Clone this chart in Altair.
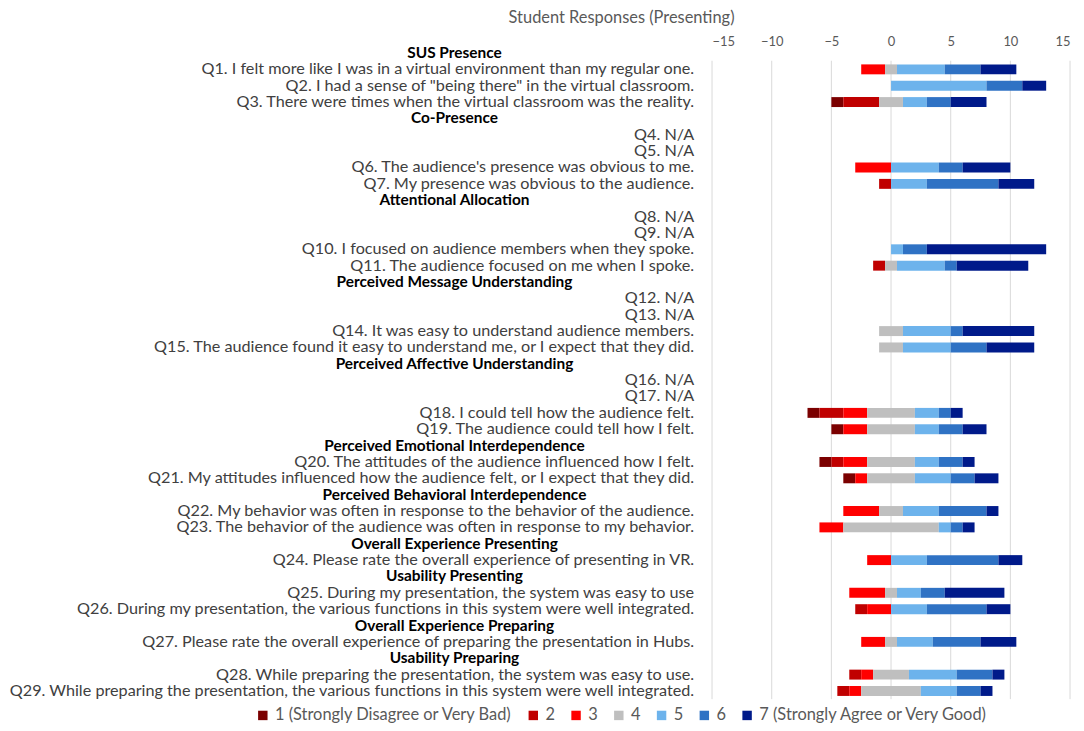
import altair as alt
import pandas as pd

FONT = "Lato"

# Row labels: (text, is_header)
rows = [
    ("SUS Presence", True),
    ("Q1. I felt more like I was in a virtual environment than my regular one.", False),
    ("Q2. I had a sense of \"being there\" in the virtual classroom.", False),
    ("Q3. There were times when the virtual classroom was the reality.", False),
    ("Co-Presence", True),
    ("Q4. N/A", False),
    ("Q5. N/A", False),
    ("Q6. The audience's presence was obvious to me.", False),
    ("Q7. My presence was obvious to the audience.", False),
    ("Attentional Allocation", True),
    ("Q8. N/A", False),
    ("Q9. N/A", False),
    ("Q10. I focused on audience members when they spoke.", False),
    ("Q11. The audience focused on me when I spoke.", False),
    ("Perceived Message Understanding", True),
    ("Q12. N/A", False),
    ("Q13. N/A", False),
    ("Q14. It was easy to understand audience members.", False),
    ("Q15. The audience found it easy to understand me, or I expect that they did.", False),
    ("Perceived Affective Understanding", True),
    ("Q16. N/A", False),
    ("Q17. N/A", False),
    ("Q18. I could tell how the audience felt.", False),
    ("Q19. The audience could tell how I felt.", False),
    ("Perceived Emotional Interdependence", True),
    ("Q20. The attitudes of the audience influenced how I felt.", False),
    ("Q21. My attitudes influenced how the audience felt, or I expect that they did.", False),
    ("Perceived Behavioral Interdependence", True),
    ("Q22. My behavior was often in response to the behavior of the audience.", False),
    ("Q23. The behavior of the audience was often in response to my behavior.", False),
    ("Overall Experience Presenting", True),
    ("Q24. Please rate the overall experience of presenting in VR.", False),
    ("Usability Presenting", True),
    ("Q25. During my presentation, the system was easy to use", False),
    ("Q26. During my presentation, the various functions in this system were well integrated.", False),
    ("Overall Experience Preparing", True),
    ("Q27. Please rate the overall experience of preparing the presentation in Hubs.", False),
    ("Usability Preparing", True),
    ("Q28. While preparing the presentation, the system was easy to use.", False),
    ("Q29. While preparing the presentation, the various functions in this system were well integrated.", False),
]

# counts of responses 1..7 per question
counts = {
    "Q1": [0, 0, 2, 1, 4, 3, 3],
    "Q2": [0, 0, 0, 0, 8, 3, 2],
    "Q3": [1, 3, 0, 2, 2, 2, 3],
    "Q6": [0, 0, 3, 0, 4, 2, 4],
    "Q7": [0, 1, 0, 0, 3, 6, 3],
    "Q10": [0, 0, 0, 0, 1, 2, 10],
    "Q11": [0, 1, 0, 1, 4, 1, 6],
    "Q14": [0, 0, 0, 2, 4, 1, 6],
    "Q15": [0, 0, 0, 2, 4, 3, 4],
    "Q18": [1, 2, 2, 4, 2, 1, 1],
    "Q19": [1, 0, 2, 4, 2, 2, 2],
    "Q20": [1, 1, 2, 4, 2, 2, 1],
    "Q21": [1, 0, 1, 4, 3, 2, 2],
    "Q22": [0, 0, 3, 2, 3, 4, 1],
    "Q23": [0, 0, 2, 8, 1, 1, 1],
    "Q24": [0, 0, 2, 0, 3, 6, 2],
    "Q25": [0, 0, 3, 1, 2, 2, 5],
    "Q26": [0, 1, 2, 0, 3, 5, 2],
    "Q27": [0, 0, 2, 1, 3, 4, 3],
    "Q28": [0, 1, 1, 3, 4, 3, 1],
    "Q29": [0, 1, 1, 5, 3, 2, 1],
}

levels = ["1 (Strongly Disagree or Very Bad)", "2", "3", "4", "5", "6",
          "7 (Strongly Agree or Very Good)"]
colors = ["#7B0000", "#C00000", "#FF0000", "#BFBFBF", "#6DB3EC", "#2F72C4", "#001A8A"]
ticks = [-15, -10, -5, 0, 5, 10, 15]

labels_df = pd.DataFrame({
    "idx": list(range(len(rows))),
    "label": [r[0] for r in rows],
    "header": [r[1] for r in rows],
})

bar_records = []
for i, (text, hdr) in enumerate(rows):
    if hdr:
        continue
    q = text.split(".")[0]
    if q not in counts:
        continue
    c = counts[q]
    start = -(c[0] + c[1] + c[2] + c[3] / 2)
    for k in range(7):
        if c[k] > 0:
            bar_records.append({"idx": i, "level": levels[k], "order": k,
                                "x0": start, "x1": start + c[k]})
        start += c[k]
bars_df = pd.DataFrame(bar_records)
ticks_df = pd.DataFrame({"t": ticks})

W = 360
H = 658

yenc = alt.Y("idx:O", axis=None, scale=alt.Scale(paddingInner=0, paddingOuter=0))
xscale = alt.Scale(domain=[-15, 15], nice=False)

grid = alt.Chart(ticks_df).mark_rule(color="#D9D9D9", strokeWidth=1).encode(
    x=alt.X("t:Q", scale=xscale, title=None,
            axis=alt.Axis(orient="top", values=ticks, grid=False, domain=False, ticks=False,
                          labelFont=FONT, labelFontSize=13, labelColor="#595959",
                          labelPadding=0, offset=-4)),
    y=alt.value(16),
    y2=alt.value(H),
)

bars = alt.Chart(bars_df).mark_bar(size=10).encode(
    x=alt.X("x0:Q", scale=xscale),
    x2="x1:Q",
    y=yenc,
    color=alt.Color("level:N", scale=alt.Scale(domain=levels, range=colors),
                    legend=alt.Legend(title=None, orient="none", direction="horizontal",
                                      legendX=-460, legendY=666, symbolType="square",
                                      symbolSize=90, symbolStrokeWidth=0,
                                      labelFont=FONT, labelFontSize=16.5, labelLimit=0,
                                      labelColor="#595959", columnPadding=12,
                                      labelOffset=4, columns=7)),
    order="order:Q",
)

qtext = alt.Chart(labels_df[~labels_df["header"]]).mark_text(
    align="right", baseline="middle", font=FONT, fontSize=16.3, color="#404040"
).encode(y=yenc, x=alt.value(-18), text="label:N")

htext = alt.Chart(labels_df[labels_df["header"]]).mark_text(
    align="center", baseline="middle", font=FONT, fontSize=15.5, fontWeight="bold", color="#000000"
).encode(y=yenc, x=alt.value(-259), text="label:N")

chart = alt.layer(grid, bars, qtext, htext).properties(
    width=W, height=H,
    padding={"left": 0, "top": 0, "right": 5, "bottom": 5},
    title=alt.TitleParams("Student Responses (Presenting)", anchor="start", frame="bounds",
                          dx=503, font=FONT, fontSize=16.5, fontWeight="normal",
                          color="#595959", offset=9),
).configure_view(stroke=None)

chart.save("out.html", embed_options={"renderer": "svg", "actions": False})
